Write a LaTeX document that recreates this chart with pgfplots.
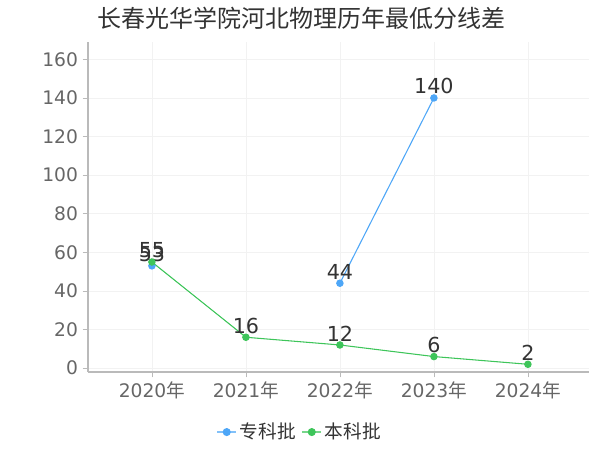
\documentclass[border=0pt]{standalone}
\usepackage{pgfplots}
\pgfplotsset{compat=1.18}
\usepackage{fontspec}
\setmainfont{DejaVu Sans}
\newfontfamily\cjk{Noto Sans CJK SC}
\definecolor{zhuan}{HTML}{4DA6F7}
\definecolor{ben}{HTML}{3EC55A}
\definecolor{tickgray}{HTML}{666666}
\definecolor{labgray}{HTML}{333333}
\begin{document}
\begin{tikzpicture}[x=1pt,y=1pt]
\begin{axis}[
    name=ax,
    scale only axis,
    clip=false,
    width=375.75pt, height=247.5pt,
    xmin=-0.68, xmax=4.65,
    ymin=-2, ymax=169,
    xtick={0,1,2,3,4},
    xticklabels={2020{\cjk 年},2021{\cjk 年},2022{\cjk 年},2023{\cjk 年},2024{\cjk 年}},
    ytick={0,20,40,60,80,100,120,140,160},
    axis x line*=bottom, axis y line*=left,
    axis line style={draw=black!27, line width=0.8pt},
    tick style={draw=black!27, line width=0.6pt},
    tick align=outside, major tick length=4pt,
    grid=major, grid style={draw=black!5, line width=0.5pt},
    tick label style={font=\fontsize{14pt}{16pt}\selectfont, text=tickgray},
    /pgf/number format/assume math mode=true,
    unbounded coords=jump,
    nodes near coords,
    every node near coord/.append style={font=\fontsize{15.5pt}{17pt}\selectfont, text=labgray, inner sep=1pt, yshift=1.5pt},
    legend style={at={(0.423,-0.182)}, anchor=center, draw=none, fill=none,
        legend columns=-1, font=\cjk\fontsize{14pt}{16pt}\selectfont, text=labgray,
        /tikz/every even column/.append style={column sep=2pt}},
    legend image code/.code={\draw[#1, line width=1.8pt, opacity=0.7] (0pt,0pt) -- (14pt,0pt); \fill[#1] (7pt,0pt) circle (2.6pt);},
]
\addplot[color=zhuan, line width=0.8pt, mark=*, mark size=2.4pt] coordinates {
    (0,53) (1,nan) (2,44) (3,140)
};
\addlegendentry{专科批}
\addplot[color=ben, line width=0.8pt, mark=*, mark size=2.4pt] coordinates {
    (0,55) (1,16) (2,12) (3,6) (4,2)
};
\addlegendentry{本科批}
\node[anchor=west, inner sep=0pt, font=\cjk\fontsize{18pt}{20pt}\selectfont, text=labgray] at (rel axis cs:0.018,1.072) {长春光华学院河北物理历年最低分线差};
\end{axis}
\path[use as bounding box] ([shift={(-66pt,-58.5pt)}]ax.south west) rectangle ([shift={(384pt,279pt)}]ax.south west);
\end{tikzpicture}
\end{document}
